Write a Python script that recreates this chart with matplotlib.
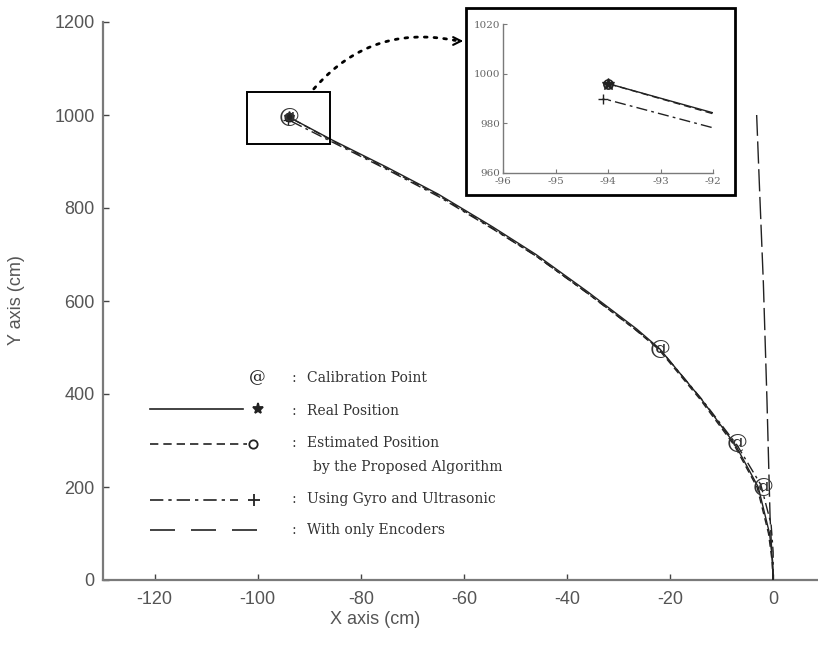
import matplotlib

matplotlib.use("Agg")
import matplotlib.pyplot as plt
from matplotlib.lines import Line2D
from matplotlib.patches import Rectangle

plt.rcParams["axes.unicode_minus"] = False

# trajectory data (cm)
real_x = [0, -0.1, -0.7, -2.9, -7.3, -14, -22, -26.5, -36, -46, -54.5, -65, -75, -85.5, -94]
real_y = [0, 40, 100, 200, 290, 390, 497, 540, 620, 700, 760, 830, 888, 946, 996]

est_x = [0, -0.2, -0.9, -3.1, -7.5, -14.2, -22.2, -26.8, -36.3, -46.3, -54.8, -65.2, -75.3, -85.6, -94]
est_y = [0, 40, 100, 199, 289, 389, 496, 539, 619, 699, 759, 829, 887, 945, 996]

gyro_x = [0, 0, -0.4, -2.4, -7.0, -13.8, -21.8, -26.3, -35.8, -45.9, -54.4, -64.8, -74.8, -85.2, -94.1]
gyro_y = [0, 60, 120, 205, 290, 388, 494, 535, 615, 696, 755, 824, 882, 940, 990]

enc_x = [0, -0.6, -1.2, -1.9, -2.6, -3.2]
enc_y = [0, 136, 387, 639, 830, 1000]

cal_x = [-94, -22, -7, -2]
cal_y = [996, 497, 295, 200]

x_ticks = [-120, -100, -80, -60, -40, -20, 0]
y_ticks = [0, 200, 400, 600, 800, 1000, 1200]
inset_x_ticks = [-96, -95, -94, -93, -92]
inset_y_ticks = [960, 980, 1000, 1020]

W, H = 818, 648
LINE = "#222222"
GRAY = "#7a7a7a"
TXT = "#555555"


def fpx(px, py):
    # pixel position -> figure fraction
    return px / W, 1 - py / H


def draw_series(a, ms_scale=1.0):
    a.plot(real_x, real_y, color=LINE, lw=1.0, marker="*", markevery=[len(real_x) - 1],
           ms=8 * ms_scale, zorder=4)
    a.plot(est_x, est_y, color=LINE, lw=1.0, ls=(0, (5, 3)), marker="o", markevery=[len(est_x) - 1],
           ms=6 * ms_scale, mfc="none", mew=1.2, zorder=4)
    a.plot(gyro_x, gyro_y, color=LINE, lw=1.0, ls=(0, (8, 3, 2, 3)), marker="+", markevery=[len(gyro_x) - 1],
           ms=7 * ms_scale, zorder=4)


fig = plt.figure(figsize=(W / 100, H / 100), dpi=100)
ax = fig.add_axes([103 / W, 1 - 580 / H, 715 / W, 558 / H])

draw_series(ax)
ax.plot(enc_x, enc_y, color=LINE, lw=1.0, ls=(0, (16, 4)), zorder=3)
for cx, cy in zip(cal_x, cal_y):
    ax.text(cx, cy, "@", ha="center", va="center", fontsize=15, color="#333333",
            family=["DejaVu Serif"], zorder=5)

ax.add_patch(Rectangle((-102, 938), 16, 111, fill=False, edgecolor="black", lw=1.4, zorder=6))

ax.set_xlim(-130, 8.7)
ax.set_ylim(0, 1200)
ax.set_xticks(x_ticks)
ax.set_yticks(y_ticks)
for side in ("top", "right"):
    ax.spines[side].set_visible(False)
for side in ("left", "bottom"):
    ax.spines[side].set_color(GRAY)
    ax.spines[side].set_linewidth(1.6)
ax.tick_params(direction="in", length=4, width=1, color="#444444", labelcolor=TXT, labelsize=13)
ax.tick_params(axis="x", pad=8)
ax.tick_params(axis="y", pad=6)
for lab in ax.get_xticklabels() + ax.get_yticklabels():
    lab.set_family(["Liberation Sans", "DejaVu Sans"])

fig.text(*fpx(375, 620), "X axis (cm)", ha="center", va="center", fontsize=13, color=TXT,
         family=["Liberation Sans", "DejaVu Sans"])
fig.text(*fpx(17, 300), "Y axis (cm)", ha="center", va="center", rotation=90, fontsize=13, color=TXT,
         family=["Liberation Sans", "DejaVu Sans"])

# hand-drawn legend
serif = ["DejaVu Serif"]
legend_font = dict(fontsize=10, color="#333333", family=serif, va="center")
fig.text(*fpx(257, 378), "@", ha="center", fontsize=12, color="#222222", family=serif, va="center")
rows = [
    (378, "Calibration Point"),
    (411, "Real Position"),
    (443, "Estimated Position"),
    (499, "Using Gyro and Ultrasonic"),
    (530, "With only Encoders"),
]
for py, label in rows:
    fig.text(*fpx(294, py), ":", ha="center", **legend_font)
    fig.text(*fpx(307, py), label, ha="left", **legend_font)
fig.text(*fpx(313, 467), "by the Proposed Algorithm", ha="left", **legend_font)

legend_lines = [
    (150, 243, 409, "-", "*", 258, 8, "full"),
    (150, 247, 444, (0, (5, 3)), "o", 253, 6, "none"),
    (150, 238, 500, (0, (8, 3, 2, 3)), "+", 254, 8, "full"),
    (150, 257, 530, (0, (15, 9.6)), None, None, 0, "full"),
]
for x0, x1, py, ls, mk, mx, ms, fill in legend_lines:
    (fx0, fy), (fx1, _) = fpx(x0, py), fpx(x1, py)
    fig.add_artist(Line2D([fx0, fx1], [fy, fy], transform=fig.transFigure, color=LINE, lw=1.2, ls=ls))
    if mk:
        mfx, _ = fpx(mx, py)
        fig.add_artist(Line2D([mfx], [fy], transform=fig.transFigure, color=LINE, marker=mk, ms=ms,
                              mfc="none" if fill == "none" else LINE, mew=1.3, ls="none"))

# inset frame and zoomed axes
bx, by = fpx(466, 195)
fig.add_artist(Rectangle((bx, by), 269 / W, 187 / H, transform=fig.transFigure,
                         facecolor="white", edgecolor="black", lw=2, zorder=2))
ax_in = fig.add_axes([503 / W, 1 - 173 / H, 210 / W, 149 / H], zorder=3)
ax_in.patch.set_alpha(0)
draw_series(ax_in, ms_scale=1.1)
ax_in.set_xlim(-96, -92)
ax_in.set_ylim(960, 1020)
ax_in.set_xticks(inset_x_ticks)
ax_in.set_yticks(inset_y_ticks)
for side in ("top", "right"):
    ax_in.spines[side].set_visible(False)
for side in ("left", "bottom"):
    ax_in.spines[side].set_color(GRAY)
    ax_in.spines[side].set_linewidth(1.0)
ax_in.tick_params(direction="in", length=3, color=GRAY, labelcolor="#666666", labelsize=7.5)
ax_in.tick_params(axis="x", pad=3)
ax_in.tick_params(axis="y", pad=2)
for lab in ax_in.get_xticklabels() + ax_in.get_yticklabels():
    lab.set_family(serif)

# dotted arrow from zoom box to inset
ax.annotate("", xy=fpx(458, 41), xycoords="figure fraction", xytext=fpx(312, 91),
            textcoords="figure fraction",
            arrowprops=dict(arrowstyle="-", ls=(0, (1, 2.5)), lw=2, color="black",
                            connectionstyle="arc3,rad=-0.3"))
ax.annotate("", xy=fpx(466, 41), xycoords="figure fraction", xytext=fpx(456, 41),
            textcoords="figure fraction",
            arrowprops=dict(arrowstyle="->", lw=1.5, color="black", mutation_scale=14))

fig.savefig("out.png", dpi=100)
